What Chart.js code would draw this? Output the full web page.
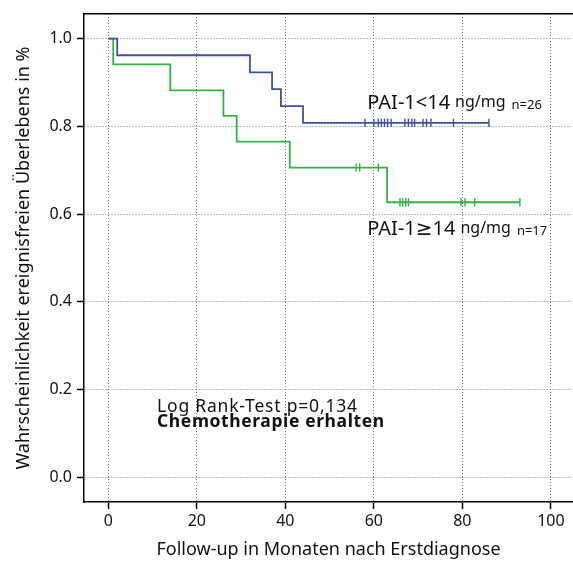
<!DOCTYPE html>
<html>
<head>
<meta charset="utf-8">
<title>Ereignisfreies Überleben nach PAI-1</title>
<script src="https://cdn.jsdelivr.net/npm/chart.js@4.4.1/dist/chart.umd.min.js"></script>
<style>
  html, body { margin: 0; padding: 0; background: #fff; overflow: hidden; }
  canvas { display: block; }
</style>
</head>
<body>
<canvas id="kmChart" width="573" height="561"></canvas>
<script>
// Kaplan-Meier steps: event times (months) and survival after each event
const lowTimes = [0, 2, 32, 37, 39, 44, 86];
const lowSurv = [1.0, 0.962, 0.923, 0.885, 0.846, 0.808, 0.808];
const lowCensored = [58, 60, 61, 61.7, 62.4, 63.1, 63.9, 67, 67.8, 68.6, 69.2, 71.1, 71.9, 72.9, 78, 86];

const highTimes = [0, 1.1, 14, 26, 29, 41, 63, 93];
const highSurv = [1.0, 0.941, 0.882, 0.824, 0.765, 0.706, 0.627, 0.627];
const highCensored = [56, 56.8, 61, 65.9, 66.5, 67.2, 67.8, 79.7, 80.6, 82.8, 93];

const xTicks = [0, 20, 40, 60, 80, 100];
const yTicks = [0, 0.2, 0.4, 0.6, 0.8, 1.0];

const FONT = '"Noto Sans", "DejaVu Sans", sans-serif';
const BLUE = '#3b53a4';
const GREEN = '#30b441';

// survival level of a step curve at time t
function survAt(times, surv, t) {
    let s = surv[0];
    for (let i = 0; i < times.length; i++) {
        if (times[i] <= t) s = surv[i];
    }
    return s;
}

function stepPoints(times, surv) {
    return times.map((t, i) => ({ x: t, y: surv[i] }));
}

function censorPoints(censored, times, surv) {
    return censored.map(t => ({ x: t, y: survAt(times, surv, t) }));
}

// group labels and test note, anchored in data coordinates
const groupLabels = [
    { main: 'PAI-1<14', n: 'n=26', x: 58.5, y: 0.839 },
    { main: 'PAI-1\u226514', n: 'n=17', x: 58.5, y: 0.552 }
];

const labelPlugin = {
    id: 'labelPlugin',
    afterDatasetsDraw(chart) {
        const { ctx, scales } = chart;
        const px = v => scales.x.getPixelForValue(v);
        const py = v => scales.y.getPixelForValue(v);
        ctx.save();
        ctx.fillStyle = '#111';
        ctx.textBaseline = 'alphabetic';
        ctx.textAlign = 'left';

        groupLabels.forEach(g => {
            let cx = px(g.x);
            const cy = py(g.y);
            ctx.font = '20px ' + FONT;
            ctx.fillText(g.main, cx, cy);
            cx += ctx.measureText(g.main).width + 5;
            ctx.font = '16px ' + FONT;
            ctx.fillText('ng/mg', cx, cy - 2.5);
            cx += ctx.measureText('ng/mg').width + 6;
            ctx.font = '13px ' + FONT;
            ctx.fillText(g.n, cx, cy);
        });

        ctx.letterSpacing = '0.8px';
        ctx.font = '17.5px ' + FONT;
        ctx.fillText('Log Rank-Test p=0,134', px(11), py(0.150));
        ctx.letterSpacing = '0.6px';
        ctx.font = 'bold 17.5px ' + FONT;
        ctx.fillText('Chemotherapie erhalten', px(11), py(0.1145));
        ctx.restore();
    }
};

const ctx = document.getElementById('kmChart').getContext('2d');
new Chart(ctx, {
    type: 'scatter',
    data: {
        datasets: [
            {
                label: 'PAI-1<14',
                data: stepPoints(lowTimes, lowSurv),
                showLine: true,
                stepped: 'before',
                borderColor: BLUE,
                borderWidth: 1.8,
                pointRadius: 0,
                fill: false
            },
            {
                label: 'PAI-1<14 zensiert',
                data: censorPoints(lowCensored, lowTimes, lowSurv),
                showLine: false,
                pointStyle: 'line',
                rotation: 90,
                pointRadius: 4.2,
                borderColor: BLUE,
                borderWidth: 1.4
            },
            {
                label: 'PAI-1\u226514',
                data: stepPoints(highTimes, highSurv),
                showLine: true,
                stepped: 'before',
                borderColor: GREEN,
                borderWidth: 1.8,
                pointRadius: 0,
                fill: false
            },
            {
                label: 'PAI-1\u226514 zensiert',
                data: censorPoints(highCensored, highTimes, highSurv),
                showLine: false,
                pointStyle: 'line',
                rotation: 90,
                pointRadius: 4.2,
                borderColor: GREEN,
                borderWidth: 1.4
            }
        ]
    },
    options: {
        responsive: false,
        animation: false,
        layout: { autoPadding: false, padding: { top: 14, right: 0, bottom: 0, left: 0 } },
        plugins: {
            legend: { display: false },
            tooltip: { enabled: false }
        },
        scales: {
            x: {
                type: 'linear',
                position: 'bottom',
                min: -5.5,
                max: 105,
                afterFit(scale) {
                    scale.height = 59;
                    scale.paddingLeft = 0;
                    scale.paddingRight = 0;
                },
                afterBuildTicks(scale) { scale.ticks = xTicks.map(v => ({ value: v })); },
                ticks: {
                    color: '#111',
                    font: { family: FONT, size: 16 },
                    padding: 3,
                    maxRotation: 0
                },
                grid: {
                    color: '#7a7a7a',
                    lineWidth: 1,
                    tickLength: 7,
                    tickColor: '#000',
                    tickWidth: 1.5
                },
                border: { color: '#000', width: 1.5, dash: [1, 2] },
                title: {
                    display: true,
                    text: 'Follow-up in Monaten nach Erstdiagnose',
                    color: '#111',
                    font: { family: FONT, size: 18 },
                    padding: { top: 0, bottom: 0 }
                }
            },
            x2: {
                type: 'linear',
                position: 'top',
                min: -5.5,
                max: 105,
                afterFit(scale) {
                    scale.height = 0;
                    scale.paddingLeft = 0;
                    scale.paddingRight = 0;
                },
                ticks: { display: false },
                grid: { display: false, drawTicks: false },
                border: { color: '#000', width: 1.5 }
            },
            y: {
                type: 'linear',
                min: -0.056,
                max: 1.056,
                afterFit(scale) {
                    scale.width = 84;
                    scale.paddingTop = 0;
                    scale.paddingBottom = 0;
                },
                afterBuildTicks(scale) { scale.ticks = yTicks.map(v => ({ value: v })); },
                ticks: {
                    color: '#111',
                    font: { family: FONT, size: 16 },
                    padding: 5,
                    callback: v => v.toFixed(1)
                },
                grid: {
                    color: '#7a7a7a',
                    lineWidth: 1,
                    tickLength: 7,
                    tickColor: '#000',
                    tickWidth: 1.5
                },
                border: { color: '#000', width: 1.5, dash: [1, 2] },
                title: {
                    display: true,
                    text: 'Wahrscheinlichkeit ereignisfreien Überlebens in %',
                    color: '#111',
                    font: { family: FONT, size: 18 },
                    padding: { top: 13, bottom: 0 }
                }
            }
        }
    },
    plugins: [labelPlugin]
});
</script>
</body>
</html>
